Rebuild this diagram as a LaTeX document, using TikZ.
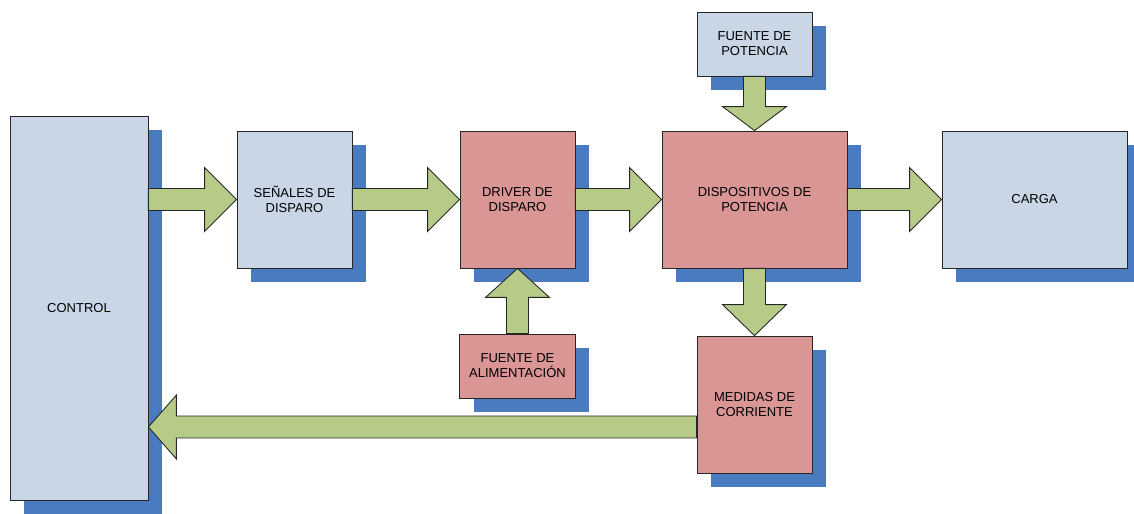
\documentclass[tikz,border=0pt]{standalone}
\usepackage{fontspec}
\setmainfont{Liberation Sans}
\usetikzlibrary{calc,shadows}

\definecolor{boxblue}{RGB}{200,214,230}
\definecolor{boxpink}{RGB}{217,150,148}
\definecolor{shadowblue}{RGB}{74,123,193}
\definecolor{arrowgreen}{RGB}{183,203,136}

\tikzset{
  box/.style={draw=black!85, line width=0.5pt, align=center, inner sep=0pt,
    font=\fontsize{7.4}{8.6}\selectfont,
    drop shadow={shadow xshift=0.28cm, shadow yshift=-0.28cm, fill=shadowblue, opacity=1}},
  bluebox/.style={box, fill=boxblue},
  pinkbox/.style={box, fill=boxpink},
  blockarrow/.style={fill=arrowgreen, draw=black!85, line width=0.5pt, line join=miter}
}

% #1 head length, #2 start, #3 tip
\newcommand{\fatarrow}[3][0.64cm]{%
  \coordinate (fa-h) at ($(#3)!#1!(#2)$);
  \filldraw[blockarrow] ($(#2)!0.22cm!90:(#3)$) -- ($(fa-h)!0.22cm!90:(#3)$)
    -- ($(fa-h)!0.64cm!90:(#3)$) -- (#3) -- ($(fa-h)!0.64cm!-90:(#3)$)
    -- ($(fa-h)!0.22cm!-90:(#3)$) -- ($(#2)!0.22cm!-90:(#3)$) -- cycle;
}

\begin{document}
\begin{tikzpicture}[x=0.02cm, y=-0.02cm]
    \useasboundingbox (0,0) rectangle (1134,514);

    \node[bluebox, minimum width=2.76cm, minimum height=7.68cm] (control) at (79,308) {CONTROL};
    \node[bluebox, minimum width=2.3cm, minimum height=2.74cm] (senales) at (294.5,199.5) {SEÑALES DE\\DISPARO};
    \node[pinkbox, minimum width=2.3cm, minimum height=2.74cm] (driver) at (517.5,199.5) {DRIVER DE\\DISPARO};
    \node[pinkbox, minimum width=3.7cm, minimum height=2.74cm] (disp) at (754.5,199.5) {DISPOSITIVOS DE\\POTENCIA};
    \node[bluebox, minimum width=3.7cm, minimum height=2.74cm] (carga) at (1034.5,199.5) {CARGA};
    \node[bluebox, minimum width=2.3cm, minimum height=1.28cm] (fpot) at (754.5,44) {FUENTE DE\\POTENCIA};
    \node[pinkbox, minimum width=2.32cm, minimum height=1.28cm] (falim) at (517.5,366) {FUENTE DE\\ALIMENTACIÓN};
    \node[pinkbox, minimum width=2.3cm, minimum height=2.74cm] (medidas) at (754.5,404.5) {MEDIDAS DE\\CORRIENTE};

    \coordinate (ctrlout) at (control.east |- senales.west);
    \coordinate (medout) at ([yshift=-0.45cm]medidas.west);
    \coordinate (ctrlin) at (control.east |- medout);

    \fatarrow{ctrlout}{senales.west}
    \fatarrow{senales.east}{driver.west}
    \fatarrow{driver.east}{disp.west}
    \fatarrow{disp.east}{carga.west}
    \fatarrow[0.48cm]{fpot.south}{disp.north}
    \fatarrow[0.58cm]{falim.north}{driver.south}
    \fatarrow[0.62cm]{disp.south}{medidas.north}
    \fatarrow[0.56cm]{medout}{ctrlin}
\end{tikzpicture}
\end{document}
